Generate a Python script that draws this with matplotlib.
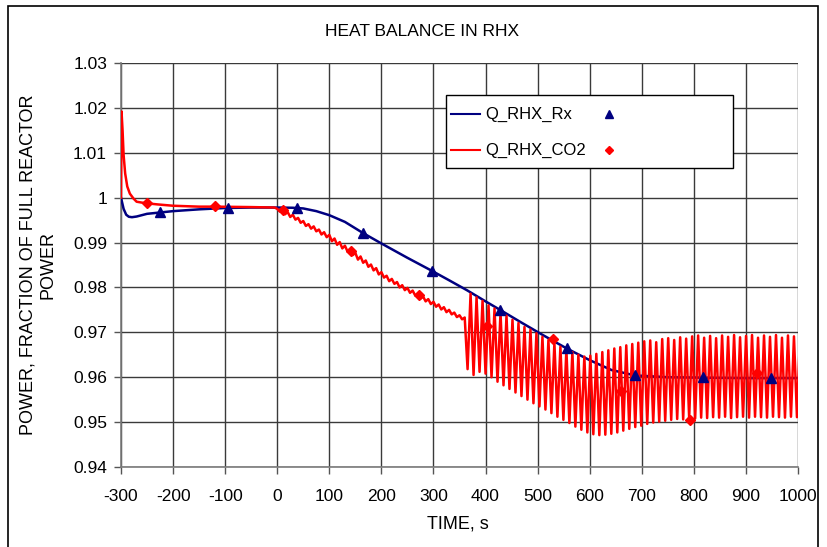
import matplotlib
matplotlib.use("Agg")
import matplotlib.pyplot as plt
import numpy as np
from matplotlib.patches import Rectangle
from matplotlib.lines import Line2D

plt.rcParams['font.family'] = ['Liberation Sans', 'DejaVu Sans']
plt.rcParams['axes.unicode_minus'] = False

# Q_RHX_Rx (reactor side) - smooth curve
rx_t = [-300, -295, -290, -285, -279, -270, -260, -250, -225, -200, -150, -100,
        -50, 0, 30, 50, 75, 100, 130, 165, 200, 250, 297, 330, 364, 400, 428,
        470, 510, 556, 600, 642, 687, 750, 820, 900, 1000]
rx_v = [1.0, 0.9975, 0.9962, 0.99575, 0.99565, 0.9958, 0.9961, 0.9964, 0.9967,
        0.9970, 0.9974, 0.9977, 0.9978, 0.9978, 0.99775, 0.9976, 0.9970, 0.9961,
        0.9946, 0.9921, 0.9898, 0.9866, 0.9837, 0.9816, 0.9794, 0.9769, 0.9750,
        0.9721, 0.9694, 0.9664, 0.9638, 0.9616, 0.9604, 0.9600, 0.9599, 0.9598,
        0.9598]
rx_mark_t = [-225, -95, 38, 165, 297, 428, 556, 687, 818, 948]
rx_mark_v = [0.9967, 0.9977, 0.9978, 0.9921, 0.9837, 0.9750, 0.9664, 0.9604,
             0.9600, 0.9599]

# Q_RHX_CO2 (gas side) - initial spike and plateau
co2_t = [-300, -299, -297, -295, -292, -288, -283, -276, -270, -260, -251,
         -230, -200, -150, -120, -50, -5]
co2_v = [1.0, 1.0192, 1.0150, 1.0095, 1.0054, 1.0025, 1.0009, 0.9998, 0.9991,
         0.9989, 0.99875, 0.9985, 0.9982, 0.9980, 0.9980, 0.9979, 0.9978]

# noisy decline, sampled every 5 s from 0 to 360 s
co2_noisy_v = [0.9975, 0.9969, 0.9974, 0.9963, 0.9968, 0.9957, 0.9962, 0.9951,
               0.9955, 0.9944, 0.9948, 0.9937, 0.9941, 0.9931, 0.9936, 0.9925,
               0.9929, 0.9918, 0.9923, 0.9912, 0.9917, 0.9903, 0.9909, 0.9895,
               0.9901, 0.9887, 0.9893, 0.9880, 0.9885, 0.9872, 0.9877, 0.9862,
               0.9869, 0.9855, 0.9860, 0.9846, 0.9851, 0.9838, 0.9843, 0.9829,
               0.9834, 0.9822, 0.9826, 0.9814, 0.9819, 0.9808, 0.9812, 0.9800,
               0.9805, 0.9794, 0.9799, 0.9788, 0.9793, 0.9782, 0.9786, 0.9775,
               0.9780, 0.9769, 0.9774, 0.9763, 0.9768, 0.9757, 0.9762, 0.9751,
               0.9756, 0.9745, 0.9750, 0.9740, 0.9744, 0.9734, 0.9738, 0.9729,
               0.9733]

# oscillation: one trough and one peak per cycle
osc_start = 365.5
osc_period = 11.5
co2_troughs = [0.9618, 0.9605, 0.9612, 0.9608, 0.9600, 0.9590, 0.9582, 0.9574,
               0.9566, 0.9558, 0.9550, 0.9542, 0.9535, 0.9528, 0.9520, 0.9512,
               0.9505, 0.9498, 0.9490, 0.9483, 0.9477, 0.9473, 0.9471, 0.9472,
               0.9474, 0.9477, 0.9481, 0.9485, 0.9489, 0.9492, 0.9496, 0.9499,
               0.9501, 0.9503, 0.9505, 0.9507, 0.9506, 0.9509, 0.9508, 0.9510,
               0.9509, 0.9511, 0.9510, 0.9512, 0.9509, 0.9511, 0.9512, 0.9510,
               0.9512, 0.9511, 0.9510, 0.9512, 0.9511, 0.9510, 0.9512, 0.9511]
co2_peaks = [0.9786, 0.9778, 0.9770, 0.9760, 0.9753, 0.9744, 0.9737, 0.9728,
             0.9721, 0.9712, 0.9706, 0.9698, 0.9690, 0.9683, 0.9676, 0.9668,
             0.9661, 0.9656, 0.9650, 0.9646, 0.9648, 0.9652, 0.9656, 0.9660,
             0.9664, 0.9667, 0.9671, 0.9674, 0.9677, 0.9680, 0.9682, 0.9678,
             0.9685, 0.9687, 0.9683, 0.9689, 0.9686, 0.9691, 0.9693, 0.9688,
             0.9692, 0.9687, 0.9693, 0.9690, 0.9694, 0.9689, 0.9692, 0.9694,
             0.9688, 0.9693, 0.9690, 0.9694, 0.9688, 0.9693, 0.9691, 0.9692]

co2_mark_t = [-251, -120, 11, 142, 273, 402, 529, 661, 793, 921]
co2_mark_v = [0.99875, 0.9981, 0.9972, 0.9881, 0.9783, 0.9713, 0.9685, 0.9570,
              0.9505, 0.9609]

x_ticks = list(range(-300, 1001, 100))
y_ticks = [0.94, 0.95, 0.96, 0.97, 0.98, 0.99, 1.0, 1.01, 1.02, 1.03]
y_tick_labels = ['0.94', '0.95', '0.96', '0.97', '0.98', '0.99', '1', '1.01',
                 '1.02', '1.03']

# assemble the CO2 series
noisy_t = np.arange(len(co2_noisy_v)) * 5.0
k = np.arange(len(co2_troughs))
osc_t = np.empty(2 * len(k))
osc_v = np.empty(2 * len(k))
osc_t[0::2] = osc_start + osc_period * k
osc_t[1::2] = osc_start + osc_period * (k + 0.5)
osc_v[0::2] = co2_troughs
osc_v[1::2] = co2_peaks
red_t = np.concatenate([co2_t, noisy_t, osc_t])
red_v = np.concatenate([co2_v, co2_noisy_v, osc_v])

W, H = 828, 547
fig = plt.figure(figsize=(W / 100, H / 100), dpi=100)
ax = fig.add_axes([121 / W, 1 - 467 / H, 677 / W, 404 / H])

navy = '#000080'
red = '#FF0000'
grid_c = '#3a3a3a'

ax.plot(rx_t, rx_v, color=navy, lw=1.8, zorder=3)
ax.plot(red_t, red_v, color=red, lw=1.8, zorder=4)
ax.plot(rx_mark_t, rx_mark_v, ls='none', marker='^', ms=7, color=navy, zorder=5)
ax.plot(co2_mark_t, co2_mark_v, ls='none', marker='D', ms=5.5, color=red, zorder=5)

ax.set_xlim(-300, 1000)
ax.set_ylim(0.94, 1.03)
ax.set_xticks(x_ticks)
ax.set_yticks(y_ticks)
ax.set_yticklabels(y_tick_labels)
ax.grid(True, color=grid_c, lw=1.0)
ax.set_axisbelow(True)
for s in ['top', 'right']:
    ax.spines[s].set_visible(False)
for s in ['left', 'bottom']:
    ax.spines[s].set_color('#7a7a7a')
    ax.spines[s].set_linewidth(1.2)
ax.tick_params(direction='out', length=5, width=1, color='#555555',
               labelsize=12.5, pad=5)
ax.tick_params(axis='x', pad=11)

fig.text(422 / W, 1 - 32 / H, 'HEAT BALANCE IN RHX', ha='center', va='center',
         fontsize=12.5)
fig.text(458 / W, 1 - 524 / H, 'TIME, s', ha='center', va='center',
         fontsize=13)
fig.text(38 / W, 1 - 265 / H, 'POWER, FRACTION OF FULL REACTOR\nPOWER',
         ha='center', va='center', rotation=90, fontsize=13,
         multialignment='center', linespacing=1.2)

# legend box drawn in figure pixels
fig.patches.append(Rectangle((446 / W, 1 - 168 / H), 287 / W, 73 / H,
                             transform=fig.transFigure, facecolor='white',
                             edgecolor='black', lw=1.0, zorder=10))
for yy, col, lab, mk, size in [(114, navy, 'Q_RHX_Rx', '^', 5.5),
                               (150, red, 'Q_RHX_CO2', 'D', 4.5)]:
    fig.lines.append(Line2D([451 / W, 480 / W], [1 - yy / H] * 2, color=col,
                            lw=1.5, transform=fig.transFigure, zorder=11))
    fig.lines.append(Line2D([609 / W], [1 - yy / H], marker=mk, ms=size,
                            color=col, ls='none', transform=fig.transFigure,
                            zorder=11))
    fig.text(485 / W, 1 - yy / H, lab, ha='left', va='center', fontsize=12,
             zorder=12)

# outer frame
fig.patches.append(Rectangle((8 / W, -0.05), 810 / W, 1.05 - 6 / H,
                             transform=fig.transFigure, fill=False,
                             edgecolor='black', lw=1.2, zorder=0))

fig.savefig('out.png', dpi=100)
